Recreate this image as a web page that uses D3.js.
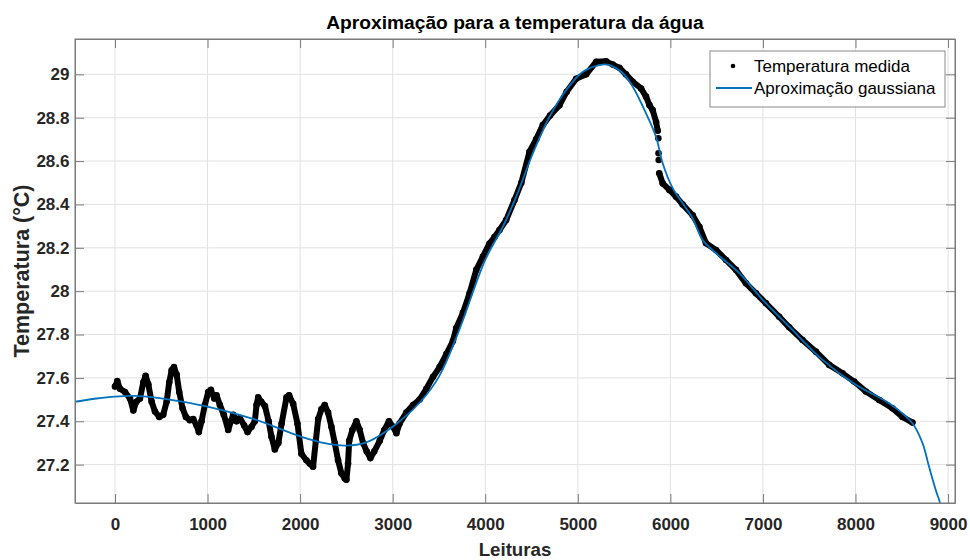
<!DOCTYPE html>
<html>
<head>
<meta charset="utf-8">
<script src="https://cdn.jsdelivr.net/npm/d3@7"></script>
<style>
  body { margin: 0; background: #fff; }
  svg { display: block; font-family: "Liberation Sans", Arial, sans-serif; }
</style>
</head>
<body>
<div id="chart"></div>
<script>
// leituras (x) e temperatura medida (y)
const readings = [0, 25, 54, 108, 162, 198, 230, 270, 306, 331, 360, 396, 432, 478, 521, 558, 586, 612, 637, 666,
  694, 730, 766, 809, 845, 882, 906, 935, 971, 1007, 1036, 1072, 1097, 1133, 1176, 1223, 1252, 1277, 1313, 1349,
  1396, 1432, 1475, 1511, 1529, 1547, 1580, 1620, 1660, 1690, 1727, 1765, 1800, 1853, 1881, 1925, 1971, 2014, 2068, 2104,
  2140, 2170, 2195, 2230, 2266, 2302, 2338, 2374, 2410, 2446, 2482, 2500, 2518, 2530, 2565, 2608, 2644, 2680, 2720, 2759,
  2800, 2860, 2910, 2960, 3003, 3040, 3075, 3148, 3220, 3291, 3364, 3436, 3507, 3580, 3651, 3687, 3759, 3831, 3903, 3975,
  4046, 4100, 4154, 4226, 4316, 4390, 4478, 4550, 4622, 4700, 4802, 4880, 4982, 5090, 5198, 5306, 5378, 5450, 5520, 5594,
  5684, 5737, 5774, 5809, 5846, 5863,
  5880, 5917, 5989, 6061, 6133, 6241, 6313, 6385, 6493, 6601, 6709, 6817, 6925, 7033, 7176, 7284, 7428, 7572, 7716, 7860,
  7986, 8112, 8256, 8399, 8507, 8615]
const measured = [27.56, 27.585, 27.55, 27.535, 27.505, 27.45, 27.49, 27.505, 27.58, 27.61, 27.57, 27.49, 27.445, 27.42, 27.43, 27.49, 27.58, 27.635, 27.65, 27.615,
  27.535, 27.46, 27.42, 27.405, 27.41, 27.38, 27.35, 27.40, 27.475, 27.535, 27.545, 27.505, 27.52, 27.475, 27.43, 27.36, 27.40, 27.43, 27.40, 27.415,
  27.38, 27.35, 27.375, 27.40, 27.475, 27.51, 27.49, 27.47, 27.40, 27.33, 27.27, 27.30, 27.39, 27.51, 27.52, 27.48, 27.39, 27.25, 27.22, 27.205,
  27.19, 27.31, 27.41, 27.455, 27.475, 27.44, 27.375, 27.30, 27.22, 27.16, 27.137, 27.13, 27.205, 27.31, 27.36, 27.40, 27.36, 27.30, 27.26, 27.23,
  27.26, 27.31, 27.36, 27.40, 27.375, 27.345, 27.39, 27.44, 27.475, 27.50, 27.55, 27.605, 27.65, 27.71, 27.77, 27.83, 27.90, 27.99, 28.098, 28.16,
  28.22, 28.25, 28.282, 28.328, 28.42, 28.50, 28.643, 28.70, 28.766, 28.81, 28.858, 28.92, 28.98, 29.00, 29.058, 29.06, 29.045, 29.03, 29.00, 28.966,
  28.935, 28.897, 28.858, 28.835, 28.78, 28.74,
  28.544, 28.497, 28.467, 28.436, 28.40, 28.35, 28.297, 28.221, 28.19, 28.144, 28.098, 28.036, 27.99, 27.944, 27.882, 27.833, 27.775, 27.721, 27.66, 27.621,
  27.583, 27.537, 27.498, 27.46, 27.42, 27.394]

// pontos isolados no salto perto de 5870
const jumpReadings = [5870, 5872, 5874]
const jumpTemps = [28.705, 28.636, 28.605]

// aproximação gaussiana
const fitReadings = [-430, -200, 0, 200, 500, 1000, 1500, 2000, 2250, 2500, 2700, 3000, 3300, 3500, 3700, 4000, 4190, 4335, 4515, 4695,
  4875, 5055, 5235, 5342, 5486, 5594, 5737, 5845, 5917, 6025, 6133, 6241, 6349, 6493, 6745, 6997, 7284, 7644, 8003, 8363,
  8615, 8723, 8795, 8867, 8914, 8960]
const fitTemps = [27.49, 27.505, 27.514, 27.517, 27.506, 27.468, 27.41, 27.33, 27.30, 27.288, 27.30, 27.375, 27.49, 27.606, 27.80, 28.144, 28.297, 28.436, 28.636, 28.805,
  28.928, 29.012, 29.043, 29.043, 29.005, 28.943, 28.82, 28.712, 28.59, 28.475, 28.405, 28.335, 28.236, 28.175, 28.083, 27.96, 27.836, 27.683, 27.568, 27.483,
  27.391, 27.30, 27.19, 27.083, 27.022, 26.94]

const xTicks = [0, 1000, 2000, 3000, 4000, 5000, 6000, 7000, 8000, 9000]
const yTicks = [27.2, 27.4, 27.6, 27.8, 28, 28.2, 28.4, 28.6, 28.8, 29]
const legendLabels = ["Temperatura medida", "Aproximação gaussiana"]

function drawChart() {
    const dimensions = {
        width: 970,
        height: 560,
        margin: { top: 39, right: 15, bottom: 57, left: 75 },
    }
    dimensions.boundedWidth = dimensions.width - dimensions.margin.left - dimensions.margin.right
    dimensions.boundedHeight = dimensions.height - dimensions.margin.top - dimensions.margin.bottom

    const points = readings.map((r, i) => ({ x: r, y: measured[i] }))
    const fit = fitReadings.map((r, i) => ({ x: r, y: fitTemps[i] }))
    const jumps = jumpReadings.map((r, i) => ({ x: r, y: jumpTemps[i] }))

    const svg = d3.select("#chart")
        .append("svg")
        .attr("width", dimensions.width)
        .attr("height", dimensions.height)

    svg.append("rect")
        .attr("width", dimensions.width)
        .attr("height", dimensions.height)
        .attr("fill", "#fff")

    const bounds = svg.append("g")
        .attr("transform", `translate(${dimensions.margin.left},${dimensions.margin.top})`)

    const xScale = d3.scaleLinear()
        .domain([-432, 9075])
        .range([0, dimensions.boundedWidth])
    const yScale = d3.scaleLinear()
        .domain([27.023, 29.163])
        .range([dimensions.boundedHeight, 0])

    // grade
    bounds.append("g").selectAll("line.gx")
        .data(xTicks)
        .join("line")
        .attr("x1", d => xScale(d)).attr("x2", d => xScale(d))
        .attr("y1", 0).attr("y2", dimensions.boundedHeight)
        .attr("stroke", "#e2e2e2")
    bounds.append("g").selectAll("line.gy")
        .data(yTicks)
        .join("line")
        .attr("y1", d => yScale(d)).attr("y2", d => yScale(d))
        .attr("x1", 0).attr("x2", dimensions.boundedWidth)
        .attr("stroke", "#e2e2e2")

    bounds.append("clipPath")
        .attr("id", "clip")
        .append("rect")
        .attr("width", dimensions.boundedWidth)
        .attr("height", dimensions.boundedHeight)

    const plot = bounds.append("g").attr("clip-path", "url(#clip)")

    const lineGen = d3.line()
        .x(d => xScale(d.x))
        .y(d => yScale(d.y))

    // dados medidos: faixa densa de pontos pretos
    const segments = [points.filter(d => d.x <= 5863), points.filter(d => d.x >= 5880)]
    plot.selectAll("path.measured")
        .data(segments)
        .join("path")
        .attr("d", lineGen)
        .attr("fill", "none")
        .attr("stroke", "#000")
        .attr("stroke-width", 6)
        .attr("stroke-linejoin", "round")
        .attr("stroke-linecap", "round")

    plot.selectAll("circle.measured")
        .data(points.concat(jumps))
        .join("circle")
        .attr("cx", d => xScale(d.x))
        .attr("cy", d => yScale(d.y))
        .attr("r", 3.3)
        .attr("fill", "#000")

    plot.append("path")
        .datum(fit)
        .attr("d", lineGen.curve(d3.curveCatmullRom))
        .attr("fill", "none")
        .attr("stroke", "#0072BD")
        .attr("stroke-width", 1.8)

    // eixos
    const axisColor = "#7a7a7a"
    const textColor = "#262626"

    const xAxis = bounds.append("g")
        .attr("transform", `translate(0,${dimensions.boundedHeight})`)
        .call(d3.axisBottom(xScale).tickValues(xTicks).tickSize(-9).tickSizeOuter(0).tickPadding(15).tickFormat(d => d))
    const xTop = bounds.append("g")
        .call(d3.axisTop(xScale).tickValues(xTicks).tickSize(-9).tickSizeOuter(0).tickFormat(""))
    const yAxis = bounds.append("g")
        .call(d3.axisLeft(yScale).tickValues(yTicks).tickSize(-9).tickSizeOuter(0).tickPadding(5.5).tickFormat(d => d))
    const yRight = bounds.append("g")
        .attr("transform", `translate(${dimensions.boundedWidth},0)`)
        .call(d3.axisRight(yScale).tickValues(yTicks).tickSize(-9).tickSizeOuter(0).tickFormat(""))

    ;[xAxis, xTop, yAxis, yRight].forEach(a => {
        a.selectAll("line").attr("stroke", axisColor)
        a.select(".domain").attr("stroke", axisColor)
        a.selectAll("text")
            .attr("fill", textColor)
            .style("font-size", "17px")
            .style("font-weight", "bold")
            .style("font-family", "'Liberation Sans', Arial, sans-serif")
    })

    bounds.append("rect")
        .attr("width", dimensions.boundedWidth)
        .attr("height", dimensions.boundedHeight)
        .attr("fill", "none")
        .attr("stroke", axisColor)

    // textos
    svg.append("text")
        .attr("x", dimensions.margin.left + dimensions.boundedWidth / 2)
        .attr("y", 29)
        .attr("text-anchor", "middle")
        .attr("fill", "#000")
        .style("font-size", "19.2px")
        .style("font-weight", "bold")
        .text("Aproximação para a temperatura da água")

    svg.append("text")
        .attr("x", dimensions.margin.left + dimensions.boundedWidth / 2)
        .attr("y", 556)
        .attr("text-anchor", "middle")
        .attr("fill", textColor)
        .style("font-size", "18.7px")
        .style("font-weight", "bold")
        .text("Leituras")

    svg.append("text")
        .attr("transform", `translate(29,${dimensions.margin.top + dimensions.boundedHeight / 2}) rotate(-90)`)
        .attr("text-anchor", "middle")
        .attr("fill", textColor)
        .style("font-size", "21.5px")
        .style("font-weight", "bold")
        .text("Temperatura (°C)")

    // legenda
    const legend = svg.append("g").attr("transform", "translate(710,51)")
    legend.append("rect")
        .attr("width", 235)
        .attr("height", 56)
        .attr("fill", "#fff")
        .attr("stroke", "#8a8a8a")
    legend.append("circle")
        .attr("cx", 23).attr("cy", 15).attr("r", 2.3)
        .attr("fill", "#000")
    legend.append("line")
        .attr("x1", 6).attr("x2", 42)
        .attr("y1", 37).attr("y2", 37)
        .attr("stroke", "#0072BD")
        .attr("stroke-width", 1.8)
    legend.selectAll("text")
        .data(legendLabels)
        .join("text")
        .attr("x", 44)
        .attr("y", (d, i) => 15 + i * 22)
        .attr("dy", "0.35em")
        .attr("fill", "#000")
        .style("font-size", "17px")
        .text(d => d)
}

drawChart()
</script>
</body>
</html>
